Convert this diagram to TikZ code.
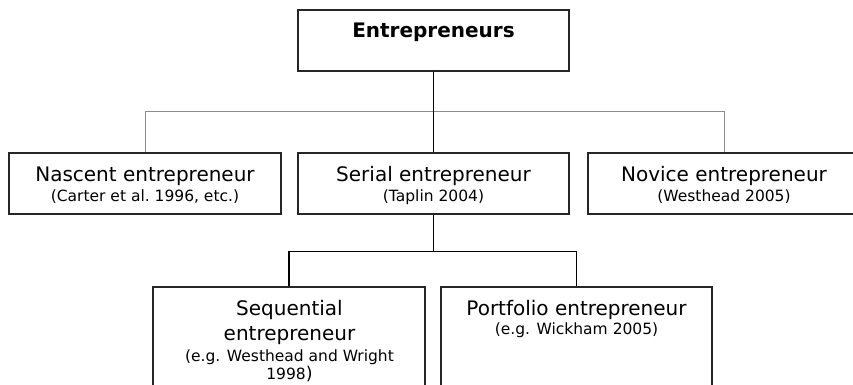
\documentclass[tikz,border=0pt]{standalone}
\usepackage{fontspec}
\setmainfont{DejaVu Sans}

\begin{document}
\begin{tikzpicture}[x=1pt, y=-1pt,
    box/.style={draw=black!85, line width=1.1pt, inner sep=0pt},
    typetext/.style={anchor=base, inner sep=0pt, font=\fontsize{20}{24}\selectfont},
    citetext/.style={anchor=base, inner sep=0pt, font=\fontsize{15.5}{19}\selectfont},
    link/.style={line width=1.4pt},
    sublink/.style={draw=black!45, line width=0.9pt}]
    \useasboundingbox (0,0) rectangle (853,384);
    \clip (0,0) rectangle (853,384);

    % top level
    \node[box, minimum width=271, minimum height=61] (E) at (433.5,40.5) {};
    \node[typetext, font=\fontsize{20}{24}\selectfont\bfseries] (Et) at (433.5,37) {Entrepreneurs};

    % second level
    \node[box, minimum width=272, minimum height=61] (N) at (145,183.5) {};
    \node[typetext] (Nt) at (145,181) {Nascent entrepreneur};
    \node[citetext] (Nc) at (145,201) {(Carter et al.\ 1996, etc.)};

    \node[box, minimum width=271, minimum height=61] (S) at (433.5,183.5) {};
    \node[typetext] (St) at (433.5,181) {Serial entrepreneur};
    \node[citetext] (Sc) at (433.5,201) {(Taplin 2004)};

    \node[box, minimum width=272, minimum height=61] (V) at (724,183.5) {};
    \node[typetext] (Vt) at (724,181) {Novice entrepreneur};
    \node[citetext] (Vc) at (724,201) {(Westhead 2005)};

    % third level
    \node[box, minimum width=272, minimum height=120] (Q) at (289,347) {};
    \node[typetext] (Qt1) at (289.5,315) {Sequential};
    \node[typetext] (Qt2) at (289.5,340) {entrepreneur};
    \node[citetext] (Qc1) at (289.5,361.5) {(e.g. Westhead and Wright};
    \node[citetext] (Qc2) at (289.5,379.5) {1998{\fontsize{17.5}{21}\selectfont)}};

    \node[box, minimum width=271, minimum height=120] (P) at (576.5,347) {};
    \node[typetext] (Pt) at (576.5,315) {Portfolio entrepreneur};
    \node[citetext] (Pc) at (576.5,334) {(e.g. Wickham 2005)};

    % connectors
    \draw[sublink] (N.north) -- ++(0,-41) -| (V.north);
    \draw[link] (E.south) -- (S.north);
    \draw[link] (S.south) -- ++(0,37) coordinate (fork);
    \draw[link] (Q.north) |- (fork) -| (P.north);
\end{tikzpicture}
\end{document}
